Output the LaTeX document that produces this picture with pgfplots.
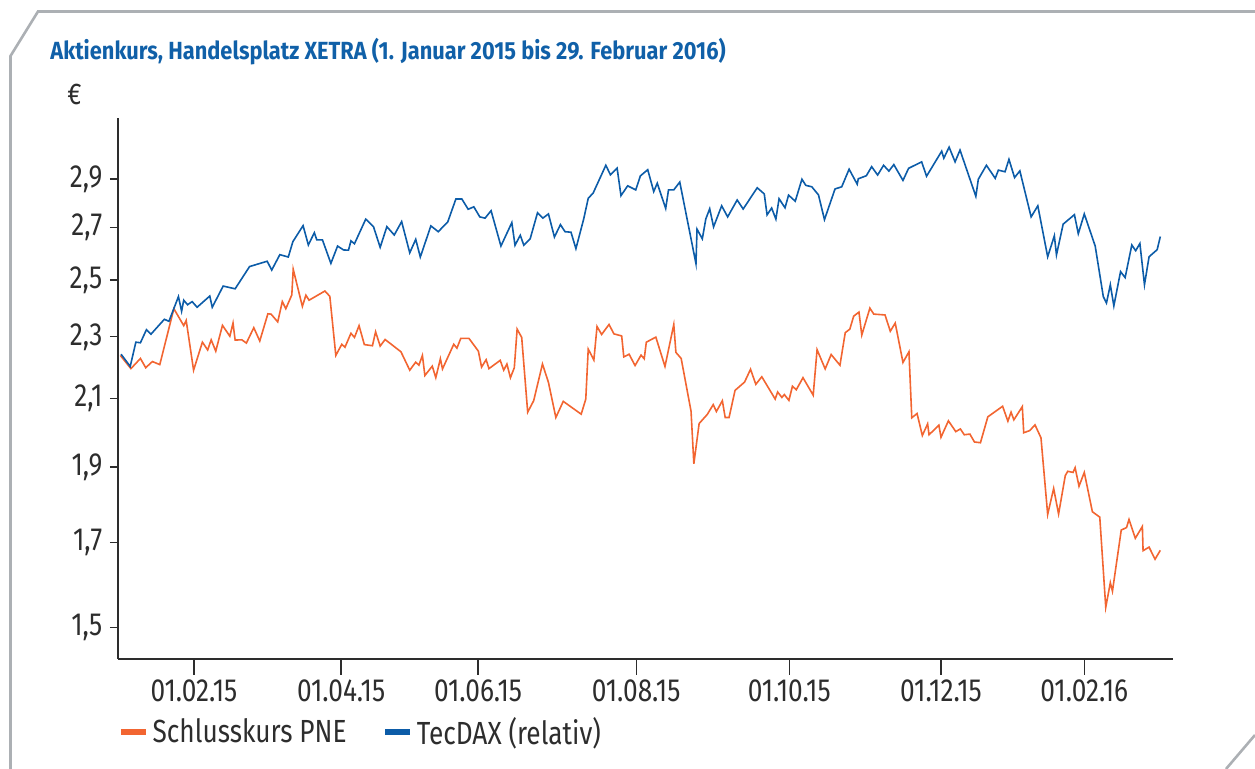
\documentclass[border=0pt]{standalone}
\usepackage{fontspec}
\setmainfont{Fira Sans}[FakeStretch=0.82]
\newfontfamily\titlefont{Fira Sans}[FakeStretch=0.88]
\usepackage{pgfplots}
\pgfplotsset{compat=1.18}
\definecolor{pneorange}{RGB}{242,101,49}
\definecolor{tecblue}{RGB}{12,92,168}
\definecolor{titleblue}{RGB}{16,96,168}
\definecolor{framegray}{RGB}{172,176,180}
\definecolor{axisgray}{RGB}{45,45,45}

\pgfplotstableread{
x y
0.1 2.238
3.1 2.195
5.8 2.228
7.3 2.198
9.2 2.218
11.3 2.208
15.3 2.397
18.1 2.338
18.8 2.356
20.9 2.190
23.4 2.282
24.9 2.256
25.9 2.290
27.2 2.252
29.1 2.339
31.2 2.302
32.1 2.347
32.7 2.289
34.6 2.290
35.9 2.279
38.0 2.331
39.7 2.286
42.0 2.379
42.9 2.378
44.8 2.351
46.1 2.422
47.1 2.397
48.8 2.446
49.2 2.540
51.8 2.405
52.8 2.445
53.7 2.427
58.2 2.460
59.6 2.441
61.3 2.238
63.0 2.275
63.9 2.265
65.6 2.312
66.6 2.298
67.9 2.338
69.4 2.274
71.7 2.270
72.6 2.317
73.9 2.269
75.3 2.291
79.8 2.250
82.3 2.190
84.0 2.216
84.9 2.206
85.9 2.238
86.6 2.173
88.7 2.203
89.7 2.166
91.0 2.227
91.6 2.194
94.8 2.275
95.7 2.262
96.8 2.295
99.1 2.295
101.8 2.252
102.7 2.200
104.0 2.224
104.8 2.195
108.0 2.222
109.0 2.190
109.9 2.210
110.9 2.166
112.0 2.198
112.8 2.326
114.1 2.298
115.8 2.059
117.5 2.094
120.0 2.210
121.7 2.151
123.8 2.043
125.9 2.092
131.0 2.053
132.3 2.099
133.0 2.259
134.6 2.223
135.5 2.335
136.8 2.308
138.9 2.342
140.3 2.310
142.5 2.303
143.1 2.233
144.6 2.242
146.3 2.205
148.0 2.239
148.9 2.227
149.5 2.282
152.2 2.299
154.8 2.202
157.3 2.342
157.9 2.248
159.4 2.228
162.2 2.062
163.0 1.909
164.5 2.025
166.8 2.052
168.5 2.082
169.4 2.061
171.1 2.094
171.9 2.043
173.0 2.043
174.7 2.126
177.4 2.152
179.1 2.193
180.6 2.145
182.3 2.169
186.1 2.099
186.8 2.121
188.0 2.104
188.7 2.113
190.0 2.095
191.0 2.139
192.1 2.128
194.0 2.166
196.9 2.111
198.0 2.257
200.3 2.194
202.0 2.241
204.5 2.206
206.0 2.314
207.3 2.326
208.4 2.371
209.9 2.385
210.7 2.306
213.0 2.399
214.1 2.378
217.3 2.375
218.8 2.319
220.2 2.347
222.4 2.215
224.1 2.250
224.9 2.042
226.4 2.055
227.9 1.990
229.4 2.024
229.8 1.992
232.6 2.020
233.2 1.985
235.3 2.033
237.4 2.001
238.7 2.009
239.8 1.992
241.4 1.994
242.7 1.971
244.4 1.969
246.5 2.045
250.7 2.077
252.2 2.032
253.1 2.059
253.9 2.036
256.3 2.076
256.7 1.998
258.4 2.004
259.9 2.021
261.6 1.983
263.5 1.772
265.2 1.841
266.6 1.773
268.5 1.876
269.2 1.888
270.7 1.885
271.3 1.898
272.4 1.847
273.9 1.885
276.2 1.779
278.3 1.765
280.0 1.546
281.3 1.603
281.9 1.583
284.4 1.732
285.9 1.738
286.6 1.759
288.4 1.711
290.4 1.741
290.6 1.680
292.3 1.689
294.0 1.659
295.5 1.681
}\pne

\pgfplotstableread{
x y
0.3 2.242
2.9 2.202
4.5 2.282
5.8 2.280
7.5 2.324
8.8 2.309
12.6 2.360
13.9 2.353
16.6 2.440
17.5 2.388
18.1 2.427
19.2 2.411
20.5 2.422
21.9 2.402
25.5 2.442
26.2 2.402
29.3 2.478
32.7 2.468
36.8 2.550
41.8 2.570
43.1 2.537
45.4 2.595
47.8 2.586
49.1 2.645
52.0 2.708
53.5 2.632
55.2 2.680
55.9 2.652
57.5 2.652
59.9 2.562
61.8 2.628
63.5 2.613
64.9 2.612
65.6 2.648
66.6 2.637
69.8 2.734
72.0 2.704
73.9 2.623
75.8 2.704
77.9 2.671
80.0 2.724
82.3 2.602
84.0 2.654
85.3 2.586
88.3 2.707
90.4 2.684
93.1 2.723
95.4 2.816
97.1 2.816
98.9 2.774
100.5 2.784
102.2 2.743
103.7 2.738
105.4 2.768
108.2 2.628
111.3 2.720
112.2 2.631
113.7 2.670
114.7 2.631
116.5 2.656
118.6 2.760
120.1 2.738
121.7 2.755
123.4 2.663
125.1 2.712
126.4 2.684
128.1 2.682
129.5 2.618
131.7 2.734
133.0 2.819
134.4 2.841
138.0 2.959
139.3 2.918
141.2 2.947
142.3 2.830
144.2 2.871
146.5 2.854
147.8 2.913
149.9 2.940
151.6 2.847
152.6 2.882
155.0 2.777
155.8 2.854
157.3 2.854
159.0 2.887
163.6 2.561
163.9 2.694
165.4 2.656
166.4 2.735
167.5 2.776
168.6 2.703
170.9 2.788
172.6 2.743
175.3 2.812
177.0 2.775
181.0 2.863
183.0 2.837
183.8 2.751
185.1 2.779
186.3 2.734
187.2 2.817
188.9 2.780
189.9 2.832
191.8 2.807
193.7 2.899
194.8 2.873
196.5 2.867
198.4 2.833
200.1 2.732
203.1 2.858
205.0 2.867
207.1 2.942
209.4 2.878
209.7 2.901
212.0 2.914
213.5 2.953
215.2 2.917
216.9 2.959
218.4 2.934
219.8 2.962
222.4 2.894
224.0 2.946
227.7 2.974
229.1 2.912
233.4 3.021
234.0 2.990
235.5 3.039
237.2 2.974
238.6 3.026
243.1 2.827
243.8 2.899
246.1 2.959
248.6 2.903
249.5 2.938
251.4 2.931
252.5 2.985
254.1 2.906
255.6 2.935
258.8 2.743
260.7 2.788
263.5 2.587
265.4 2.668
266.0 2.594
267.9 2.714
271.1 2.752
272.2 2.676
273.9 2.755
277.0 2.628
279.3 2.440
280.2 2.417
281.3 2.483
282.3 2.407
284.2 2.531
285.5 2.509
287.4 2.632
288.5 2.610
289.7 2.638
291.0 2.483
292.3 2.587
294.6 2.614
295.5 2.665
}\tecdax

\begin{document}
\begin{tikzpicture}
\useasboundingbox (0,0) rectangle (627.5pt,384.5pt);
% frame
\draw[framegray, line width=1.3pt] (5.25pt,0pt) -- (5.25pt,356.5pt) -- (19pt,378.75pt) -- (627.5pt,378.75pt);
\draw[framegray, line width=1.3pt] (627.5pt,17pt) -- (613pt,0pt);
% title
\node[anchor=base west, inner sep=0pt, text=titleblue, font=\titlefont\bfseries\fontsize{12.4}{14}\selectfont] at (25pt,354.5pt) {Aktienkurs, Handelsplatz XETRA (1. Januar 2015 bis 29. Februar 2016)};
\node[anchor=base west, inner sep=0pt, text=axisgray, font=\fontsize{15}{17}\selectfont] at (33.5pt,332pt) {€};
\begin{axis}[
  at={(59pt,55pt)}, anchor=south west,
  scale only axis, width=527.5pt, height=270.5pt,
  xmin=-0.57, xmax=299.1,
  ymode=log, ymin=1.433, ymax=3.172,
  axis x line*=bottom, axis y line*=left,
  axis line style={axisgray, line width=0.9pt},
  tick align=outside,
  tick style={axisgray, line width=0.6pt},
  xtick style={/pgfplots/major tick length=8pt},
  ytick style={/pgfplots/major tick length=4pt},
  xtick={21,62.8,101.7,146.6,190.1,233.2,273.9},
  xticklabels={01.02.15,01.04.15,01.06.15,01.08.15,01.10.15,01.12.15,01.02.16},
  ytick={1.5,1.7,1.9,2.1,2.3,2.5,2.7,2.9},
  yticklabels={{1,5},{1,7},{1,9},{2,1},{2,3},{2,5},{2,7},{2,9}},
  yminorticks=false, xminorticks=false,
  ticklabel style={text=axisgray, font=\fontsize{16}{18}\selectfont},
  xticklabel style={yshift=-2.8pt},
  legend columns=2,
  legend style={at={(0,-0.135)}, anchor=west, draw=none, fill=none, inner sep=0pt,
    font=\fontsize{16}{18}\selectfont, text=axisgray,
    /tikz/every even column/.append style={column sep=16pt}},
  legend cell align=left,
  legend image code/.code={\draw[#1, line width=2.6pt] (0pt,0pt) -- (12.5pt,0pt);},
]
\addplot[pneorange, line width=0.8pt, mark=none] table[x=x,y=y] {\pne};
\addlegendentry{Schlusskurs PNE}
\addplot[tecblue, line width=0.8pt, mark=none] table[x=x,y=y] {\tecdax};
\addlegendentry{TecDAX (relativ)}
\end{axis}
\end{tikzpicture}
\end{document}
